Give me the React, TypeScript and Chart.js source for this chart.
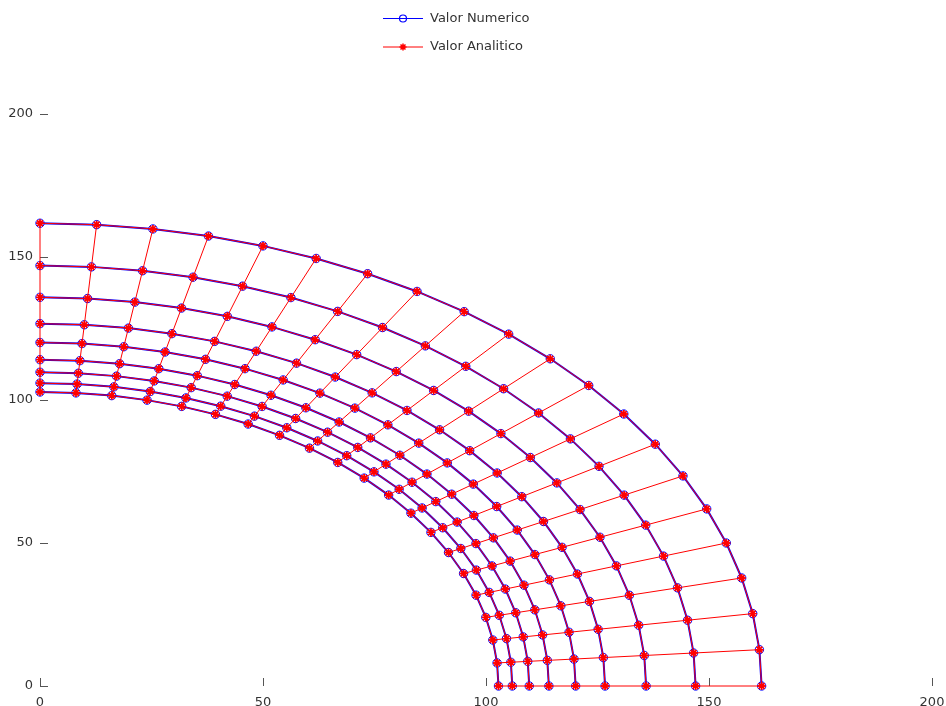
import { useEffect, useRef } from 'react';
import { Chart, registerables } from 'chart.js';

Chart.register(...registerables);

// Mesh of a quarter ring: ring radii and node angles (degrees)
const radii = [102.8, 105.9, 109.7, 114.1, 120.1, 126.7, 135.9, 147.0, 161.8];
const angles = [0, 4.5, 9, 13.5, 18, 22.5, 27, 31.5, 36, 40.5, 45, 49.5, 54, 58.5, 63, 67.5, 72, 76.5, 81, 85.5, 90];

const xTicks = [0, 50, 100, 150, 200];
const yTicks = [0, 50, 100, 150, 200];
const seriesLabels = ['Valor Numerico', 'Valor Analitico'];

const numericColor = '#0000ff';
const analyticColor = '#ff0000';
const textColor = '#333333';
const tickColor = '#555555';
const fontFamily = '"DejaVu Sans", sans-serif';

type Pt = { x: number | null; y: number | null };
const gap: Pt = { x: null, y: null };

const node = (r: number, deg: number): Pt => {
  const a = (deg * Math.PI) / 180;
  return { x: r * Math.cos(a), y: r * Math.sin(a) };
};

// circumferential lines (one per ring)
const ringLines = (): Pt[] => {
  const out: Pt[] = [];
  radii.forEach((r) => {
    angles.forEach((a) => out.push(node(r, a)));
    out.push(gap);
  });
  return out;
};

// radial lines (one per angle)
const radialLines = (): Pt[] => {
  const out: Pt[] = [];
  angles.forEach((a) => {
    radii.forEach((r) => out.push(node(r, a)));
    out.push(gap);
  });
  return out;
};

const legendPlugin = {
  id: 'meshLegend',
  afterDraw(chart: Chart) {
    const ctx = chart.ctx;
    const x0 = 383;
    const x1 = 423;
    const xm = (x0 + x1) / 2;
    const rows = [
      { label: seriesLabels[0], color: numericColor, marker: 'circle', y: 18.5 },
      { label: seriesLabels[1], color: analyticColor, marker: 'star', y: 47 },
    ];
    ctx.save();
    rows.forEach((row) => {
      ctx.strokeStyle = row.color;
      ctx.lineWidth = 1;
      ctx.beginPath();
      ctx.moveTo(x0, row.y);
      ctx.lineTo(x1, row.y);
      ctx.stroke();
      if (row.marker === 'circle') {
        ctx.lineWidth = 1.2;
        ctx.beginPath();
        ctx.arc(xm, row.y, 3.5, 0, Math.PI * 2);
        ctx.stroke();
      } else {
        ctx.lineWidth = 1.5;
        const r = 3.5;
        ctx.beginPath();
        for (let k = 0; k < 4; k++) {
          const a = (k * Math.PI) / 4;
          ctx.moveTo(xm - r * Math.cos(a), row.y - r * Math.sin(a));
          ctx.lineTo(xm + r * Math.cos(a), row.y + r * Math.sin(a));
        }
        ctx.stroke();
      }
      ctx.fillStyle = textColor;
      ctx.font = `13px ${fontFamily}`;
      ctx.textAlign = 'left';
      ctx.textBaseline = 'middle';
      ctx.fillText(row.label, 430, row.y);
    });
    ctx.restore();
  },
};

export default function App() {
  const canvasRef = useRef<HTMLCanvasElement | null>(null);

  useEffect(() => {
    if (!canvasRef.current) return;
    const chart = new Chart(canvasRef.current, {
      type: 'scatter',
      data: {
        datasets: [
          {
            label: seriesLabels[0],
            data: ringLines() as any,
            showLine: true,
            spanGaps: false,
            borderColor: numericColor,
            borderWidth: 2,
            pointStyle: 'circle',
            pointRadius: 4.2,
            pointBorderWidth: 1,
            pointBorderColor: numericColor,
            pointBackgroundColor: 'rgba(0,0,0,0)',
            clip: false as any,
            order: 2,
          },
          {
            label: seriesLabels[1],
            data: [...ringLines(), ...radialLines()] as any,
            showLine: true,
            spanGaps: false,
            borderColor: analyticColor,
            borderWidth: 1,
            pointStyle: 'star',
            pointRadius: 4,
            pointBorderWidth: 1.4,
            pointBorderColor: analyticColor,
            pointBackgroundColor: analyticColor,
            clip: false as any,
            order: 1,
          },
        ],
      },
      options: {
        responsive: false,
        animation: false,
        layout: { padding: { top: 114, right: 14, left: 0, bottom: 0 } },
        plugins: {
          legend: { display: false },
          tooltip: { enabled: false },
        },
        scales: {
          x: {
            type: 'linear',
            min: 0,
            max: 200,
            border: { display: false },
            grid: { drawOnChartArea: false, drawTicks: true, tickLength: -8, color: tickColor, lineWidth: 1 },
            ticks: {
              padding: 17,
              color: textColor,
              font: { family: fontFamily, size: 13 },
              maxRotation: 0,
              autoSkip: false,
            },
            afterBuildTicks: (s: any) => {
              s.ticks = xTicks.map((v) => ({ value: v }));
            },
            afterFit: (s: any) => {
              s.height = 20;
              s.paddingLeft = 0;
              s.paddingRight = 0;
            },
          },
          y: {
            type: 'linear',
            min: 0,
            max: 200,
            border: { display: false },
            grid: { drawOnChartArea: false, drawTicks: true, tickLength: -8, color: tickColor, lineWidth: 1 },
            ticks: {
              padding: 15,
              color: textColor,
              font: { family: fontFamily, size: 13 },
              autoSkip: false,
            },
            afterBuildTicks: (s: any) => {
              s.ticks = yTicks.map((v) => ({ value: v }));
            },
            afterFit: (s: any) => {
              s.width = 40;
              s.paddingTop = 0;
              s.paddingBottom = 0;
            },
          },
        },
      },
      plugins: [legendPlugin],
    });
    return () => chart.destroy();
  }, []);

  return (
    <canvas
      ref={canvasRef}
      width={946}
      height={706}
      style={{ position: 'fixed', left: 0, top: 0, display: 'block', background: '#ffffff' }}
    />
  );
}
